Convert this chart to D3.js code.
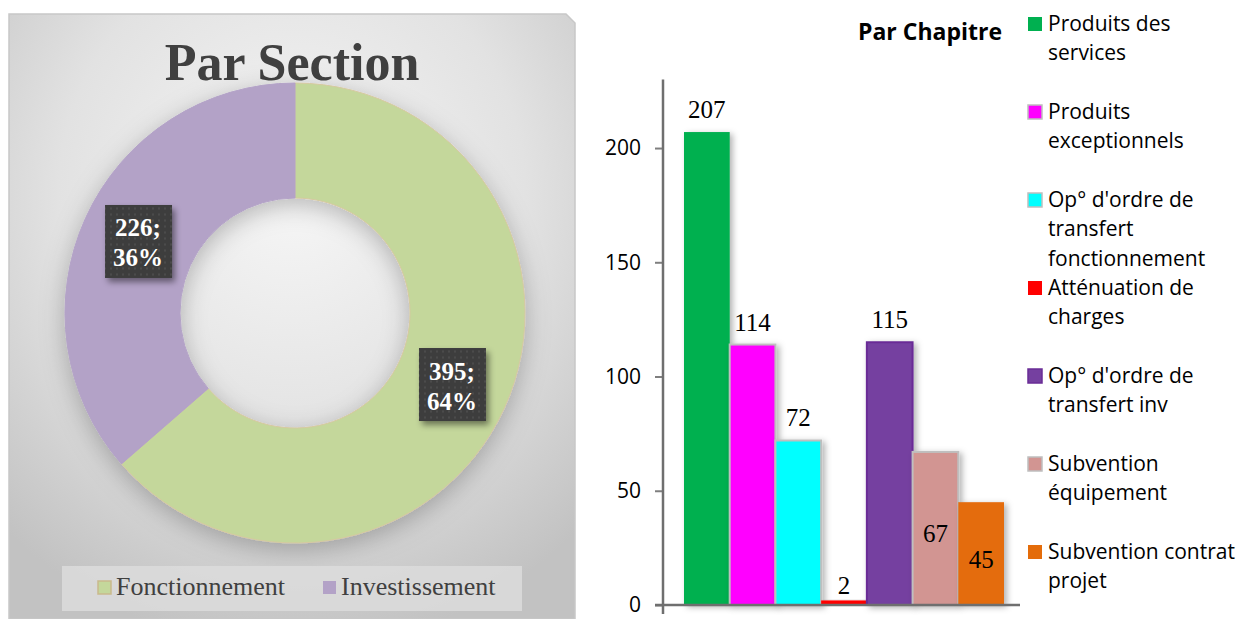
<!DOCTYPE html>
<meta charset="utf-8">
<script src="https://d3js.org/d3.v7.min.js"></script>
<style>
  body { margin: 0; background: #fff; }
  svg { display: block; }
</style>
<div id="chart"></div>
<script>
// --- data ---
var sections = ["Fonctionnement", "Investissement"];
var sectionValues = [395, 226];
var sectionColors = ["#c4d79b", "#b3a2c7"];

var chapters = ["Produits des services", "Produits exceptionnels",
  "Op° d'ordre de transfert fonctionnement", "Atténuation de charges",
  "Op° d'ordre de transfert inv", "Subvention équipement", "Subvention contrat projet"];
var chapterValues = [207, 114, 72, 2, 115, 67, 45];
var chapterLegendLines = [
  ["Produits des", "services"],
  ["Produits", "exceptionnels"],
  ["Op° d'ordre de", "transfert", "fonctionnement"],
  ["Atténuation de", "charges"],
  ["Op° d'ordre de", "transfert inv"],
  ["Subvention", "équipement"],
  ["Subvention contrat", "projet"]
];
var chapterColors = ["#00b050", "#ff00ff", "#00ffff", "#ff0000", "#7540a0", "#d29592", "#e46c0a"];
var chapterStrokes = ["none", "#bfbfbf", "#bfbfbf", "none", "#6a2c96", "#bfbfbf", "none"];
var labelInside = [false, false, false, false, false, true, true];
var yTicks = [0, 50, 100, 150, 200];

var W = 1241, H = 619;
var svg = d3.select("#chart").append("svg").attr("width", W).attr("height", H);
var defs = svg.append("defs");

var bg = defs.append("radialGradient").attr("id", "bg")
  .attr("cx", "50%").attr("cy", "30%").attr("r", "75%");
bg.append("stop").attr("offset", "0%").attr("stop-color", "#f6f6f6");
bg.append("stop").attr("offset", "55%").attr("stop-color", "#e2e2e2");
bg.append("stop").attr("offset", "100%").attr("stop-color", "#c2c2c2");

var sh = defs.append("filter").attr("id", "halo").attr("x", "-20%").attr("y", "-20%").attr("width", "140%").attr("height", "140%");
sh.append("feDropShadow").attr("dx", 0).attr("dy", 6).attr("stdDeviation", 12)
  .attr("flood-color", "#000").attr("flood-opacity", 0.25);

var bs = defs.append("filter").attr("id", "barShadow").attr("x", "-30%").attr("y", "-10%").attr("width", "160%").attr("height", "120%");
bs.append("feDropShadow").attr("dx", 3).attr("dy", 2).attr("stdDeviation", 3)
  .attr("flood-color", "#000").attr("flood-opacity", 0.3);

var ls = defs.append("filter").attr("id", "lblShadow").attr("x", "-30%").attr("y", "-30%").attr("width", "160%").attr("height", "160%");
ls.append("feDropShadow").attr("dx", 3).attr("dy", 4).attr("stdDeviation", 3)
  .attr("flood-color", "#000").attr("flood-opacity", 0.45);

var pat = defs.append("pattern").attr("id", "dots").attr("patternUnits", "userSpaceOnUse")
  .attr("width", 6).attr("height", 6);
pat.append("rect").attr("width", 6).attr("height", 6).attr("fill", "#3d3d3d");
pat.append("rect").attr("x", 2).attr("y", 2).attr("width", 2).attr("height", 2).attr("fill", "#4c4c4c");

// --- left panel: donut ---
svg.append("path")
  .attr("d", "M9,14 H566 L575,23 V619 H9 Z")
  .attr("fill", "url(#bg)").attr("stroke", "#c8c8c8").attr("stroke-width", 1.5);

svg.append("text").attr("x", 292).attr("y", 80).attr("text-anchor", "middle")
  .attr("font-family", "Liberation Serif").attr("font-weight", "bold").attr("font-size", 52)
  .attr("fill", "#404040").text("Par Section");

var cx = 295, cy = 313;
var pie = d3.pie().sort(null);
var arc = d3.arc().innerRadius(115).outerRadius(230);
var donut = svg.append("g").attr("transform", "translate(" + cx + "," + cy + ")");
var arcs = pie(sectionValues);
donut.append("g").attr("filter", "url(#halo)")
  .selectAll("path").data(arcs).enter().append("path")
  .attr("d", arc)
  .attr("fill", function(d, i) { return sectionColors[i]; })
  .attr("stroke", function(d, i) { return i === 0 ? "#d6c9a0" : "#b3a2c7"; })
  .attr("stroke-width", 1);

var total = d3.sum(sectionValues);
var lbl = donut.selectAll(".lbl").data(arcs).enter().append("g")
  .attr("transform", function(d) { var c = arc.centroid(d); return "translate(" + c[0] + "," + c[1] + ")"; });
lbl.append("rect").attr("x", -33).attr("y", -36.5).attr("width", 67).attr("height", 73)
  .attr("fill", "url(#dots)").attr("filter", "url(#lblShadow)");
lbl.append("text").attr("text-anchor", "middle").attr("y", -5)
  .attr("font-family", "Liberation Serif").attr("font-weight", "bold").attr("font-size", 25)
  .attr("fill", "#fff").text(function(d) { return d.data + ";"; });
lbl.append("text").attr("text-anchor", "middle").attr("y", 25)
  .attr("font-family", "Liberation Serif").attr("font-weight", "bold").attr("font-size", 25)
  .attr("fill", "#fff").text(function(d) { return Math.round(d.data / total * 100) + "%"; });

// legend
svg.append("rect").attr("x", 62).attr("y", 566).attr("width", 460).attr("height", 45)
  .attr("fill", "#dcdcdc").attr("opacity", 0.85);
var legX = [97, 322];
sections.forEach(function(s, i) {
  svg.append("rect").attr("x", legX[i] + 1).attr("y", 581).attr("width", 13).attr("height", 13)
    .attr("fill", sectionColors[i]).attr("stroke", i === 0 ? "#c9b98c" : "none").attr("stroke-width", 1.5);
  svg.append("text").attr("x", legX[i] + 19).attr("y", 595)
    .attr("font-family", "Liberation Serif").attr("font-size", 26).attr("fill", "#404040").text(s);
});

// --- right: bar chart ---
var y = d3.scaleLinear().domain([0, 230]).range([605, 79.5]);
var x = d3.scaleBand().domain(chapters).range([684, 1004]).padding(0);

var yAxis = svg.append("g").attr("transform", "translate(663,0)")
  .call(d3.axisLeft(y).tickValues(yTicks).tickSize(8).tickPadding(14));
yAxis.select(".domain").remove();
yAxis.selectAll("line").attr("stroke", "#7f7f7f").attr("stroke-width", 2);
yAxis.selectAll("text").attr("font-family", "Open Sans").attr("font-size", 21).attr("fill", "#000");

svg.append("line").attr("x1", 663).attr("x2", 663).attr("y1", y(230)).attr("y2", 614)
  .attr("stroke", "#6f6f6f").attr("stroke-width", 2.5);

var bars = svg.append("g");
bars.selectAll("rect").data(chapterValues).enter().append("rect")
  .attr("x", function(d, i) { return x(chapters[i]); })
  .attr("y", function(d) { return y(d); })
  .attr("width", x.bandwidth())
  .attr("height", function(d) { return y(0) - y(d); })
  .attr("fill", function(d, i) { return chapterColors[i]; })
  .attr("stroke", function(d, i) { return chapterStrokes[i]; })
  .attr("stroke-width", 2)
  .attr("filter", "url(#barShadow)");

svg.append("line").attr("x1", 655).attr("x2", 1020).attr("y1", y(0)).attr("y2", y(0))
  .attr("stroke", "#6f6f6f").attr("stroke-width", 2.5);

svg.append("g").selectAll("text").data(chapterValues).enter().append("text")
  .attr("x", function(d, i) { return x(chapters[i]) + x.bandwidth() / 2; })
  .attr("y", function(d, i) { return labelInside[i] ? (y(d) + y(0)) / 2 + 14 : y(d) - (d < 10 ? 6 : 14); })
  .attr("text-anchor", "middle")
  .attr("font-family", "Liberation Serif").attr("font-size", 25).attr("fill", "#000")
  .text(function(d) { return d; });

svg.append("text").attr("x", 1002).attr("y", 40).attr("text-anchor", "end")
  .attr("font-family", "Open Sans").attr("font-weight", "bold").attr("font-size", 23)
  .attr("fill", "#000").text("Par Chapitre");

var leg = svg.append("g").selectAll("g").data(chapters).enter().append("g")
  .attr("transform", function(d, i) { return "translate(1028," + (17 + i * 88) + ")"; });
leg.append("rect").attr("width", 14).attr("height", 14)
  .attr("fill", function(d, i) { return chapterColors[i]; })
  .attr("stroke", function(d, i) { return chapterStrokes[i]; }).attr("stroke-width", 1.5);
leg.append("text").attr("x", 20).attr("y", 14)
  .attr("font-family", "Open Sans").attr("font-size", 21).attr("fill", "#000")
  .selectAll("tspan").data(function(d, i) { return chapterLegendLines[i]; }).enter().append("tspan")
  .attr("x", 20).attr("dy", function(d, j) { return j === 0 ? 0 : 29.3; })
  .text(function(d) { return d; });
</script>
